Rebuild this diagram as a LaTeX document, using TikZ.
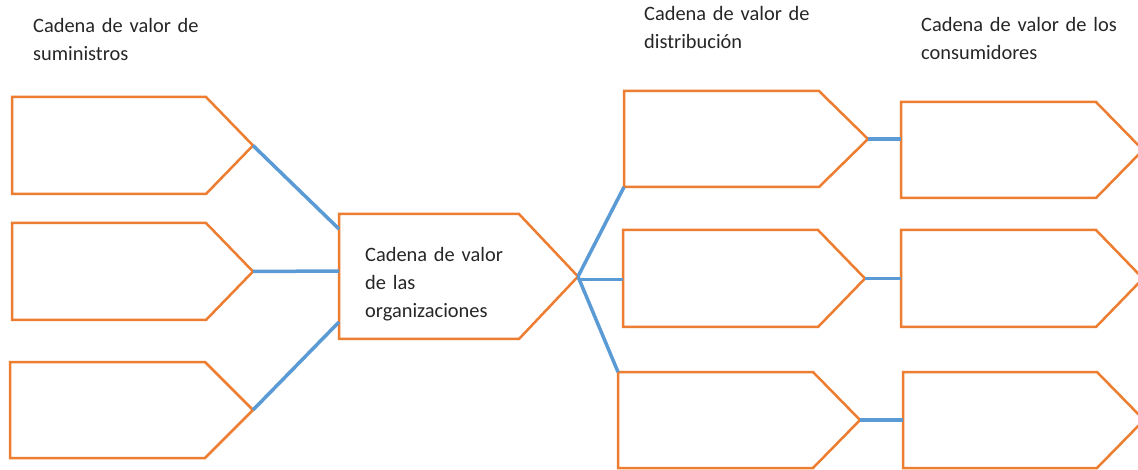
\documentclass[tikz,border=0pt]{standalone}
\usepackage{fontspec}
\setmainfont{Carlito}
\usetikzlibrary{calc}
\definecolor{boxorange}{HTML}{ED7D31}
\definecolor{linkblue}{HTML}{5B9BD5}
\definecolor{txtgray}{HTML}{262626}
\newcommand\pentabox[6]{%
  \node[boxbase, minimum width=#4pt, minimum height=#5pt] (#1) at (#2,#3) {};
  \coordinate (#1tip) at ([xshift=#6pt]#1.east);
  \draw[orangeline] (#1.north west) -- (#1.north east) -- (#1tip) -- (#1.south east) -- (#1.south west) -- cycle;
}
\tikzset{
  boxbase/.style={rectangle, inner sep=0pt, outer sep=0pt, anchor=north west},
  orangeline/.style={draw=boxorange, line width=2.5pt, line join=miter},
  link/.style={draw=linkblue, line width=3.5pt},
  label/.style={anchor=base west, inner sep=0pt, align=left, text=txtgray,
    font=\fontsize{20.4pt}{28pt}\selectfont, text width=260pt}
}
\begin{document}
\begin{tikzpicture}[x=1pt,y=-1pt]
\clip (0,0) rectangle (1138,470);
\fill[white] (0,0) rectangle (1138,470);
% headings
\node[label] (hsup) at (33,33) {Cadena de valor de\\suministros};
\node[label] (hdis) at (644,21) {Cadena de valor de\\distribución};
\node[label] (hcon) at (921,32) {Cadena de valor de los\\consumidores};
% supplier boxes
\pentabox{L1}{12}{97}{194}{97}{47}
\pentabox{L2}{12}{223}{194}{97}{47}
\pentabox{L3}{10}{362}{195}{96}{48}
% organisation box
\pentabox{O}{339}{214}{180}{125}{59}
\node[label] (otext) at (365,262) {Cadena de valor\\de las\\organizaciones};
% distribution boxes
\pentabox{D1}{624}{91}{195}{96}{49}
\pentabox{D2}{623}{230}{195}{97}{47}
\pentabox{D3}{618}{372}{195}{96}{47}
% consumer boxes
\pentabox{C1}{901}{102}{195}{96}{47}
\pentabox{C2}{901}{230}{195}{97}{47}
\pentabox{C3}{903}{372}{194}{96}{47}
% links
\draw[link] (L1tip) -- ([yshift=-15pt]O.north west);
\draw[link] (L2tip) -- ([yshift=-57pt]O.north west);
\draw[link] (L3tip) -- ([yshift=17pt]O.south west);
\draw[link] (Otip) -- (D1.south west);
\draw[link] ([yshift=-3pt]Otip) -- ([yshift=-3pt]Otip -| D2.west);
\draw[link] (Otip) -- (D3.north west);
\draw[link] (D1tip) -- (D1tip -| C1.west);
\draw[link] (D2tip) -- (D2tip -| C2.west);
\draw[link] (D3tip) -- (D3tip -| C3.west);
\end{tikzpicture}
\end{document}
